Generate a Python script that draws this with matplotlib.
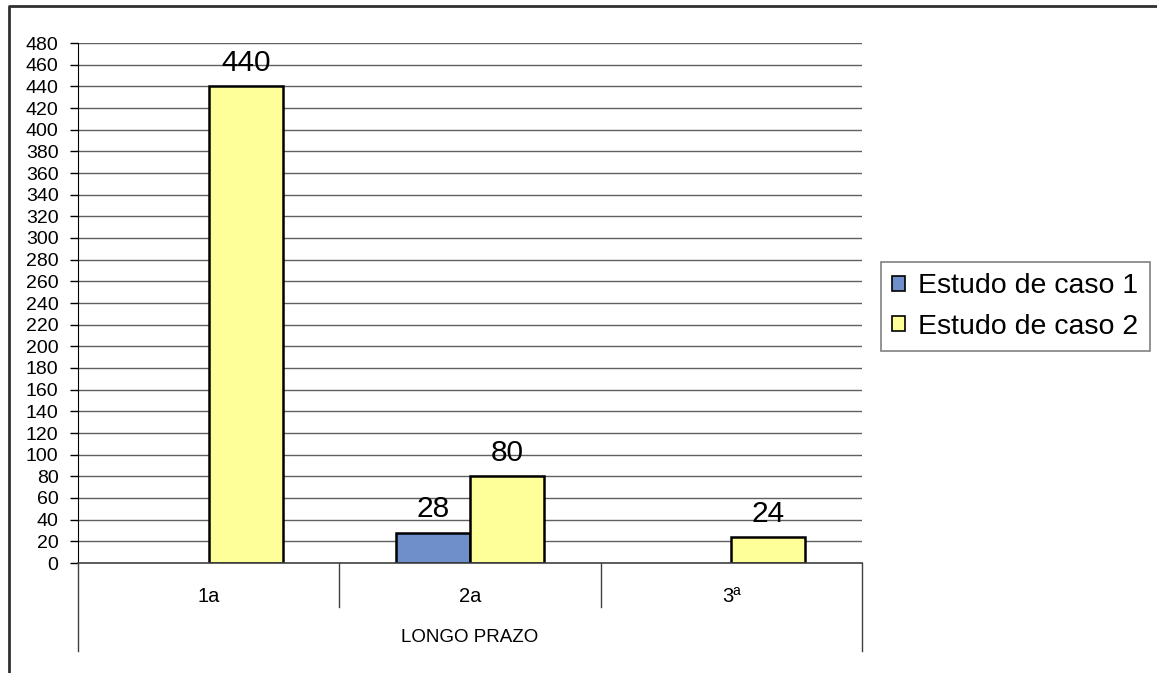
import numpy as np
import matplotlib
matplotlib.use("Agg")
import matplotlib.pyplot as plt
from matplotlib.lines import Line2D
from matplotlib.patches import Patch
from matplotlib.transforms import blended_transform_factory

plt.rcParams['font.family'] = ['Liberation Sans', 'DejaVu Sans']

categories = ["1a", "2a", "3ª"]
group_label = "LONGO PRAZO"
series_names = ["Estudo de caso 1", "Estudo de caso 2"]
caso1 = [None, 28, None]
caso2 = [440, 80, 24]
y_ticks = list(range(0, 481, 20))

W, H = 1157, 673
fig = plt.figure(figsize=(W / 100, H / 100), dpi=100)
ax = fig.add_axes([78 / W, 1 - 563 / H, (862 - 78) / W, (563 - 43) / H])

blue = "#6f8fca"
yellow = "#ffff99"
bw = 0.283
x = np.arange(len(categories))

# grid lines behind the bars
for t in y_ticks[1:]:
    ax.axhline(t, color="#606060", lw=1.0, zorder=0)

for xi, v in zip(x, caso1):
    if v is not None:
        ax.bar(xi - bw / 2, v, width=bw, color=blue, edgecolor="black", lw=1.8, zorder=2)
        ax.annotate(str(v), (xi - bw / 2, v), xytext=(0, 11), textcoords="offset points",
                    ha="center", va="baseline", fontsize=21.5)
for xi, v in zip(x, caso2):
    ax.bar(xi + bw / 2, v, width=bw, color=yellow, edgecolor="black", lw=1.8, zorder=2)
    ax.annotate(str(v), (xi + bw / 2, v), xytext=(0, 11), textcoords="offset points",
                ha="center", va="baseline", fontsize=21.5)

ax.set_xlim(-0.5, len(categories) - 0.5)
ax.set_ylim(0, 480)
ax.set_yticks(y_ticks)
ax.tick_params(axis="y", labelsize=14, length=6, width=1, direction="out", pad=8)
ax.set_xticks([])
for s in ["top", "right"]:
    ax.spines[s].set_visible(False)
ax.spines["left"].set_color("black")
ax.spines["bottom"].set_color("#404040")
ax.spines["bottom"].set_linewidth(1.2)

# category axis with dividers
tr = blended_transform_factory(ax.transData, ax.transAxes)
inner = (563 - 607) / 520
outer = (563 - 651) / 520
for b in np.arange(0.5, len(categories) - 0.5, 1.0):
    ax.plot([b, b], [0, inner], transform=tr, color="#404040", lw=1, clip_on=False)
for b in [-0.5, len(categories) - 0.5]:
    ax.plot([b, b], [0, outer], transform=tr, color="#404040", lw=1, clip_on=False)
for xi, c in zip(x, categories):
    ax.text(xi, (563 - 597) / 520, c, transform=tr, ha="center", va="center", fontsize=14.5)
ax.text((len(categories) - 1) / 2, (563 - 637) / 520, group_label, transform=tr,
        ha="center", va="center", fontsize=13.5)

handles = [Patch(facecolor=blue, edgecolor="black", lw=1.2),
           Patch(facecolor=yellow, edgecolor="black", lw=1.2)]
leg = fig.legend(handles, series_names, loc="upper left",
                 bbox_to_anchor=(881 / W, 1 - 262 / H), fontsize=20.5,
                 frameon=True, fancybox=False, edgecolor="#606060",
                 handlelength=0.45, handleheight=0.45, handletextpad=0.45,
                 borderpad=0.4, labelspacing=0.5, borderaxespad=0)
leg.get_frame().set_linewidth(1.2)

# outer frame
fig.add_artist(Line2D([9 / W, 9 / W, 1.0], [0.0, 1 - 6 / H, 1 - 6 / H],
                      transform=fig.transFigure, color="#303030", lw=2))

fig.savefig("out.png", dpi=100)
